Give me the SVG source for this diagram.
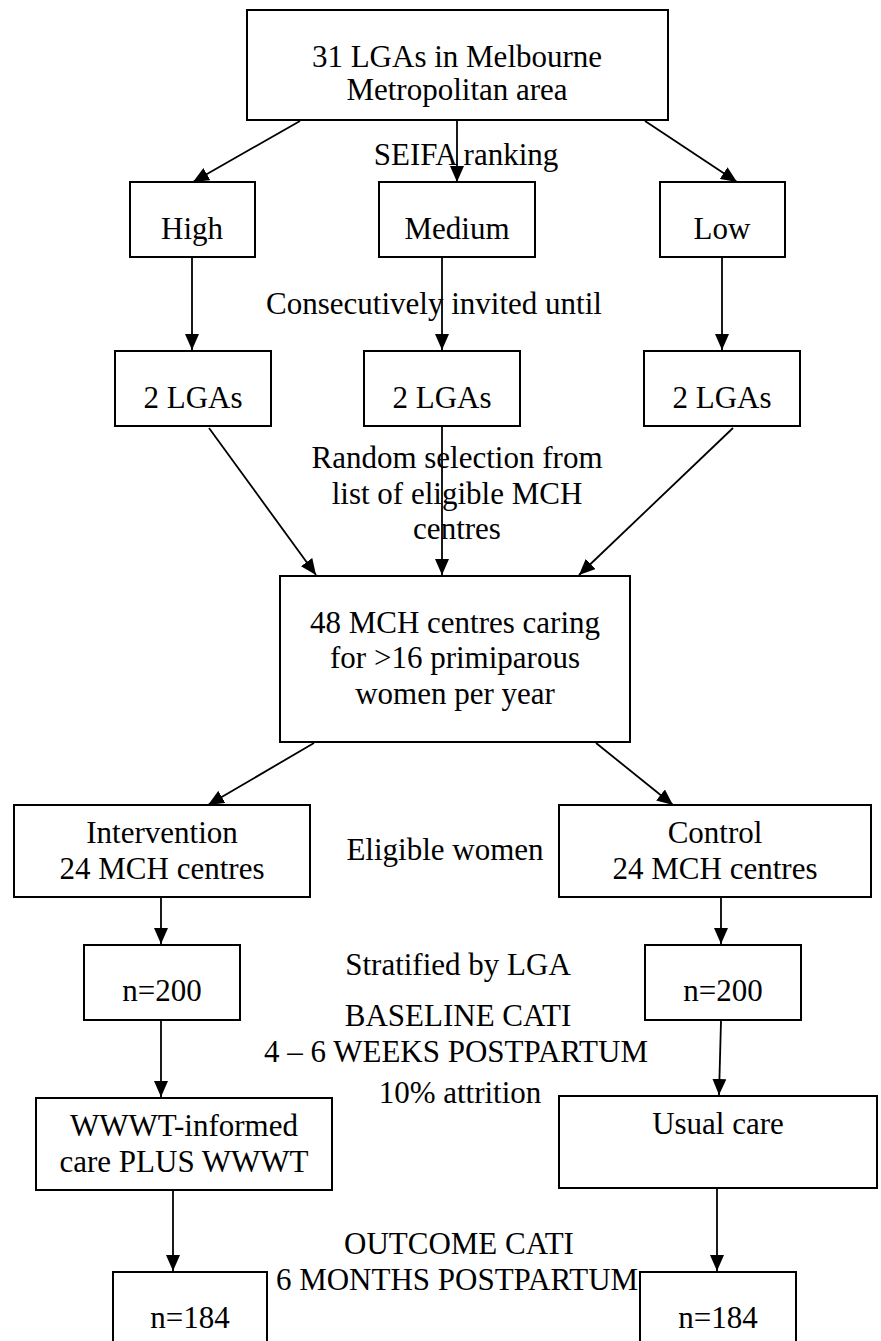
<svg xmlns="http://www.w3.org/2000/svg" width="881" height="1341" viewBox="0 0 881 1341" font-family="'Liberation Serif', 'DejaVu Serif', serif">
<style>
text{font-family:'Liberation Serif','DejaVu Serif',serif;font-size:31px;fill:#000;text-anchor:middle}
.box{fill:#fff;stroke:#000;stroke-width:2}
.con{stroke:#000;stroke-width:1.8;fill:none;marker-end:url(#arr)}
</style>
<defs>
<marker id="arr" viewBox="0 0 16 14" refX="16" refY="7" markerWidth="16" markerHeight="14" markerUnits="userSpaceOnUse" orient="auto">
<path d="M0,0 L16,7 L0,14 Z" fill="#000"/>
</marker>
</defs>
<rect width="881" height="1341" fill="#fff"/>
<g id="connectors">
<line class="con" x1="300" y1="121" x2="193" y2="182"/>
<line class="con" x1="457" y1="121" x2="457" y2="182"/>
<line class="con" x1="645" y1="121" x2="737" y2="182"/>
<line class="con" x1="192" y1="258" x2="192" y2="350"/>
<line class="con" x1="442" y1="258" x2="442" y2="350"/>
<line class="con" x1="722" y1="258" x2="722" y2="350"/>
<line class="con" x1="209" y1="428" x2="316" y2="575"/>
<line class="con" x1="442" y1="426" x2="442" y2="575"/>
<line class="con" x1="733" y1="428" x2="579" y2="575"/>
<line class="con" x1="314" y1="743" x2="208" y2="805"/>
<line class="con" x1="596" y1="743" x2="673" y2="805"/>
<line class="con" x1="161" y1="898" x2="161" y2="944"/>
<line class="con" x1="721" y1="898" x2="721" y2="944"/>
<line class="con" x1="161" y1="1021" x2="161" y2="1097"/>
<line class="con" x1="721" y1="1021" x2="719" y2="1095"/>
<line class="con" x1="173" y1="1191" x2="173" y2="1271"/>
<line class="con" x1="717" y1="1189" x2="717" y2="1271"/>
</g>
<g id="labels">
<text x="466" y="165">SEIFA ranking</text>
<text x="434" y="314">Consecutively invited until</text>
<text x="457" y="468">Random selection from</text>
<text x="457" y="504">list of eligible MCH</text>
<text x="457" y="539">centres</text>
<text x="445" y="860">Eligible women</text>
<text x="458" y="975">Stratified by LGA</text>
<text x="458" y="1026">BASELINE CATI</text>
<text x="456" y="1062">4 – 6 WEEKS POSTPARTUM</text>
<text x="460" y="1103">10% attrition</text>
<text x="459" y="1254">OUTCOME CATI</text>
<text x="457" y="1290">6 MONTHS POSTPARTUM</text>
</g>
<g id="n-top"><rect class="box" x="247" y="10" width="421" height="110"/><text x="457" y="67">31 LGAs in Melbourne</text><text x="457" y="100">Metropolitan area</text></g>
<g id="n-high"><rect class="box" x="130" y="182" width="125" height="75"/><text x="192" y="239">High</text></g>
<g id="n-medium"><rect class="box" x="379" y="182" width="156" height="75"/><text x="457" y="239">Medium</text></g>
<g id="n-low"><rect class="box" x="660" y="182" width="125" height="75"/><text x="722" y="239">Low</text></g>
<g id="n-lga1"><rect class="box" x="115" y="351" width="156" height="75"/><text x="193" y="408">2 LGAs</text></g>
<g id="n-lga2"><rect class="box" x="364" y="351" width="156" height="75"/><text x="442" y="408">2 LGAs</text></g>
<g id="n-lga3"><rect class="box" x="644" y="351" width="156" height="75"/><text x="722" y="408">2 LGAs</text></g>
<g id="n-mch"><rect class="box" x="280" y="576" width="350" height="166"/><text x="455" y="633">48 MCH centres caring</text><text x="455" y="668">for &gt;16 primiparous</text><text x="455" y="704">women per year</text></g>
<g id="n-intervention"><rect class="box" x="14" y="805" width="296" height="92"/><text x="162" y="843">Intervention</text><text x="162" y="879">24 MCH centres</text></g>
<g id="n-control"><rect class="box" x="559" y="805" width="312" height="92"/><text x="715" y="843">Control</text><text x="715" y="879">24 MCH centres</text></g>
<g id="n-n200a"><rect class="box" x="84" y="945" width="156" height="75"/><text x="162" y="1001">n=200</text></g>
<g id="n-n200b"><rect class="box" x="645" y="945" width="156" height="75"/><text x="723" y="1001">n=200</text></g>
<g id="n-wwwt"><rect class="box" x="36" y="1098" width="296" height="92"/><text x="184" y="1136">WWWT-informed</text><text x="184" y="1172">care PLUS WWWT</text></g>
<g id="n-usual"><rect class="box" x="559" y="1096" width="318" height="92"/><text x="718" y="1134">Usual care</text></g>
<g id="n-n184a"><rect class="box" x="113" y="1272" width="154" height="80"/><text x="190" y="1328">n=184</text></g>
<g id="n-n184b"><rect class="box" x="640" y="1272" width="156" height="80"/><text x="718" y="1328">n=184</text></g>
</svg>
